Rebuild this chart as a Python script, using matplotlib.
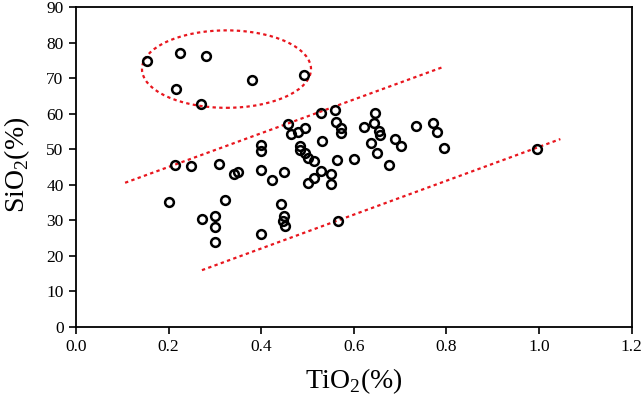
import matplotlib
matplotlib.use("Agg")
import matplotlib.pyplot as plt
from matplotlib.patches import Ellipse

tio2 = [0.153, 0.225, 0.280, 0.216, 0.271, 0.381, 0.492,
        0.528, 0.560, 0.562, 0.457, 0.464, 0.480, 0.494, 0.572, 0.572,
        0.531, 0.399, 0.399, 0.483, 0.483, 0.494, 0.500, 0.514, 0.564,
        0.600, 0.213, 0.249, 0.309, 0.342, 0.349, 0.399, 0.450, 0.424,
        0.528, 0.551, 0.515, 0.500, 0.551, 0.200, 0.321, 0.273, 0.301,
        0.301, 0.301, 0.443, 0.450, 0.447, 0.451, 0.400, 0.566, 0.646,
        0.644, 0.623, 0.654, 0.656, 0.638, 0.650, 0.689, 0.701, 0.677,
        0.734, 0.772, 0.779, 0.794, 0.996]
sio2 = [74.9, 77.2, 76.2, 67.0, 62.8, 69.5, 70.9,
        60.2, 61.2, 57.7, 57.2, 54.2, 54.9, 55.9, 56.1, 54.7,
        52.3, 51.3, 49.5, 51.0, 49.7, 49.1, 47.6, 46.7, 47.0,
        47.2, 45.5, 45.2, 45.8, 43.0, 43.6, 44.2, 43.5, 41.3,
        43.9, 43.0, 41.9, 40.4, 40.3, 35.3, 35.7, 30.5, 31.3,
        28.1, 23.9, 34.6, 31.3, 29.9, 28.4, 26.1, 29.9, 60.1,
        57.3, 56.2, 55.2, 54.0, 51.9, 49.0, 52.8, 50.9, 45.5,
        56.5, 57.3, 54.8, 50.4, 50.0]

upper_line_x = [0.106, 0.793]
upper_line_y = [40.6, 73.2]
lower_line_x = [0.272, 1.046]
lower_line_y = [16.0, 52.9]

ellipse_center = (0.325, 72.6)
ellipse_width = 0.365
ellipse_height = 21.8

xticks = [0.0, 0.2, 0.4, 0.6, 0.8, 1.0, 1.2]
yticks = [0, 10, 20, 30, 40, 50, 60, 70, 80, 90]

plt.rcParams['font.family'] = ['Liberation Serif', 'DejaVu Serif']
plt.rcParams['mathtext.fontset'] = 'custom'
plt.rcParams['mathtext.rm'] = 'Liberation Serif'

fig = plt.figure(figsize=(6.43, 3.98), dpi=100)
ax = fig.add_axes([0.1182, 0.1784, 0.8642, 0.8033])

red = '#e8161e'
ax.plot(upper_line_x, upper_line_y, color=red, lw=1.6, dashes=(1.5, 1.5), zorder=2)
ax.plot(lower_line_x, lower_line_y, color=red, lw=1.6, dashes=(1.5, 1.5), zorder=2)
ax.add_patch(Ellipse(ellipse_center, ellipse_width, ellipse_height, fill=False,
                     edgecolor=red, lw=1.6, linestyle=(0, (1.5, 1.5)), zorder=2))

ax.plot(tio2, sio2, linestyle='none', marker='o', markersize=6.3,
        markerfacecolor='none', markeredgecolor='black', markeredgewidth=1.8, zorder=3)

ax.set_xlim(0, 1.2)
ax.set_ylim(0, 90)
ax.set_xticks(xticks)
ax.set_xticklabels([f"{v:.1f}" for v in xticks])
ax.set_yticks(yticks)
ax.set_yticklabels([str(v) for v in yticks])
ax.tick_params(direction='out', length=5, width=1.2, labelsize=12.5, colors='black',
               top=False, right=False, pad=4)
for s in ax.spines.values():
    s.set_linewidth(1.3)

fig.text(0.5505, 0.043, r'TiO$_2$(%)', ha='center', va='center', fontsize=20)
fig.text(0.027, 0.585, r'SiO$_2$(%)', ha='center', va='center', fontsize=20, rotation=90)

fig.savefig('out.png', dpi=100)
